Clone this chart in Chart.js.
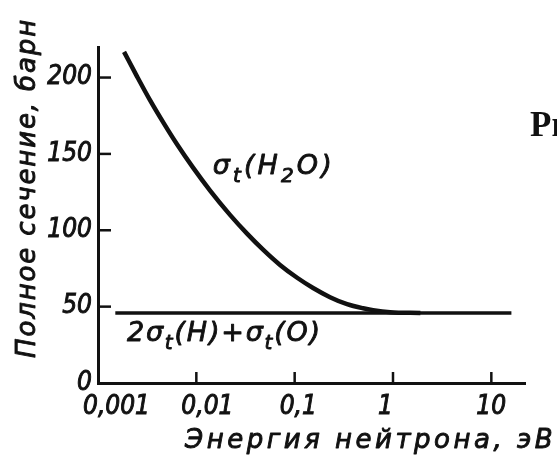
<!DOCTYPE html>
<html>
<head>
<meta charset="utf-8">
<script src="https://cdn.jsdelivr.net/npm/chart.js@4.4.1/dist/chart.umd.min.js"></script>
<style>
  html, body { margin: 0; padding: 0; background: #fff; overflow: hidden; }
  canvas { display: block; }
</style>
</head>
<body>
<canvas id="c" width="557" height="460"></canvas>
<script>
// Total cross section of water vs. neutron energy
const energyH2O = [0.00184, 0.00249, 0.00338, 0.00459, 0.00636, 0.00926, 0.0138, 0.0220, 0.0328,
                   0.0477, 0.0710, 0.106, 0.154, 0.229, 0.341, 0.497, 0.628, 0.935, 1.9];
const sigmaH2O  = [216.8, 200.8, 185.2, 170.8, 156.3, 141.0, 126.0, 110.1, 97.8,
                   87.3, 77.3, 68.9, 62.2, 56.2, 51.6, 48.9, 47.7, 46.4, 45.8];

// Sum of free-atom cross sections 2σt(H) + σt(O)
const energyFree = [0.0015, 16];
const sigmaFree  = [45.8, 45.8];

const xTickValues = [0.001, 0.01, 0.1, 1, 10];
const xTickLabels = ['0,001', '0,01', '0,1', '1', '10'];
const yTickValues = [0, 50, 100, 150, 200];
const yTickLabels = ['0', '50', '100', '150', '200'];

const INK = '#111';
const COND = '"DejaVu Sans Condensed", "DejaVu Sans", sans-serif';
const WIDE = '"DejaVu Sans", sans-serif';
const TICK_FONT = { family: COND, size: 26, style: 'italic' };

function toPoints(xs, ys) { return xs.map((x, i) => ({ x, y: ys[i] })); }

// Fills text with a thin outline so the strokes read a little heavier
function inkText(ctx, t, x, y) {
  ctx.fillText(t, x, y);
  ctx.strokeText(t, x, y);
}

// Draws text runs (for subscripts) from x on baseline y, spread to a given width
function drawRuns(ctx, x, y, runs, family, width) {
  const fontOf = r => 'italic ' + r.size + 'px ' + family;
  let natural = 0;
  runs.forEach(r => { ctx.font = fontOf(r); natural += ctx.measureText(r.t).width; });
  const chars = runs.reduce((n, r) => n + r.t.length, 0);
  const extra = width ? Math.max(0, (width - natural) / chars) : 0;
  let cx = x;
  runs.forEach(r => {
    ctx.font = fontOf(r);
    for (const ch of r.t) {
      inkText(ctx, ch, cx, y + (r.dy || 0));
      cx += ctx.measureText(ch).width + extra;
    }
  });
}

// Draws a single line of text stretched by letter spacing to a given width
function drawSpread(ctx, text, x, y, width) {
  ctx.letterSpacing = '0px';
  const natural = ctx.measureText(text).width;
  ctx.letterSpacing = ((width - natural) / text.length) + 'px';
  inkText(ctx, text, x, y);
  ctx.letterSpacing = '0px';
}

const decorations = {
  id: 'decorations',
  afterDraw(chart) {
    const ctx = chart.ctx;
    const xs = chart.scales.x, ys = chart.scales.y;
    ctx.save();
    ctx.strokeStyle = INK;
    ctx.lineWidth = 2.5;
    // inward tick marks
    yTickValues.slice(1).forEach(v => {
      const py = ys.getPixelForValue(v);
      ctx.beginPath(); ctx.moveTo(xs.left, py); ctx.lineTo(xs.left + 13, py); ctx.stroke();
    });
    xTickValues.slice(1).forEach(v => {
      const px = xs.getPixelForValue(v);
      ctx.beginPath(); ctx.moveTo(px, ys.bottom); ctx.lineTo(px, ys.bottom - 11); ctx.stroke();
    });

    ctx.fillStyle = INK;
    ctx.lineWidth = 0.9;
    ctx.lineJoin = 'round';
    ctx.textBaseline = 'alphabetic';
    ctx.textAlign = 'left';

    // curve labels
    drawRuns(ctx, xs.getPixelForValue(0.0147), ys.getPixelForValue(137), [
      { t: 'σ', size: 27 }, { t: 't', size: 20, dy: 8 },
      { t: '(H', size: 27 }, { t: '2', size: 20, dy: 8 }, { t: 'O)', size: 27 }
    ], WIDE, 122);
    drawRuns(ctx, xs.getPixelForValue(0.00197), ys.getPixelForValue(27.5), [
      { t: '2σ', size: 27 }, { t: 't', size: 20, dy: 8 },
      { t: '(H)+σ', size: 27 }, { t: 't', size: 20, dy: 8 }, { t: '(O)', size: 27 }
    ], WIDE, 195);

    // axis titles
    ctx.font = 'italic 26px ' + WIDE;
    drawSpread(ctx, 'Энергия нейтрона, эВ', 185, 448, 371);
    ctx.save();
    ctx.translate(35, 358);
    ctx.rotate(-Math.PI / 2);
    drawSpread(ctx, 'Полное сечение, барн', 0, 0, 340);
    ctx.restore();

    // figure caption, runs off the right edge
    ctx.font = 'bold 35px "Liberation Serif", serif';
    ctx.fillText('Рис.', 530, 136);
    ctx.restore();
  }
};

new Chart(document.getElementById('c'), {
  type: 'line',
  data: {
    datasets: [
      {
        data: toPoints(energyH2O, sigmaH2O),
        borderColor: INK, borderWidth: 4.5,
        cubicInterpolationMode: 'monotone',
        pointRadius: 0, fill: false
      },
      {
        data: toPoints(energyFree, sigmaFree),
        borderColor: INK, borderWidth: 3.5,
        pointRadius: 0, fill: false
      }
    ]
  },
  options: {
    responsive: false,
    animation: false,
    devicePixelRatio: 1,
    layout: { padding: { top: 47, right: 32, left: 0, bottom: 0 } },
    plugins: { legend: { display: false }, tooltip: { enabled: false } },
    scales: {
      x: {
        type: 'logarithmic',
        min: 0.001, max: 22,
        afterBuildTicks: s => { s.ticks = xTickValues.map(v => ({ value: v })); },
        afterFit: s => { s.height = 77; },
        grid: { display: false, drawTicks: false, tickLength: 0 },
        border: { display: true, color: INK, width: 3 },
        ticks: {
          color: INK, font: TICK_FONT, padding: 9, maxRotation: 0, autoSkip: false,
          align: 'start', labelOffset: -15,
          textStrokeColor: INK, textStrokeWidth: 0.9,
          callback: (v, i) => xTickLabels[i]
        }
      },
      y: {
        type: 'linear',
        min: 0, max: 220,
        afterBuildTicks: s => { s.ticks = yTickValues.map(v => ({ value: v })); },
        afterFit: s => { s.width = 98; },
        grid: { display: false, drawTicks: false, tickLength: 0 },
        border: { display: true, color: INK, width: 3 },
        ticks: {
          color: INK, font: TICK_FONT, padding: 6, autoSkip: false,
          textStrokeColor: INK, textStrokeWidth: 0.9,
          callback: (v, i) => yTickLabels[i]
        }
      }
    }
  },
  plugins: [decorations]
});
</script>
</body>
</html>
